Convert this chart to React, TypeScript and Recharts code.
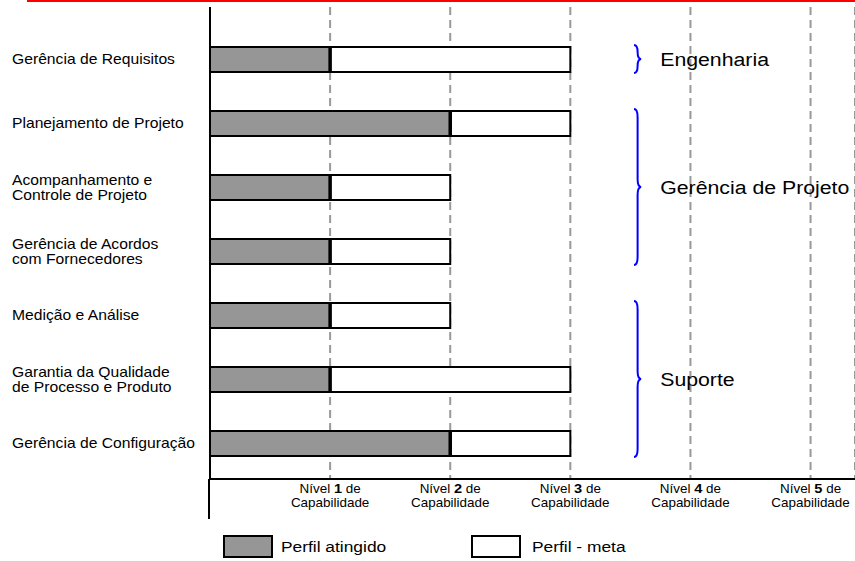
import React from "react";
import {
  BarChart,
  Bar,
  XAxis,
  YAxis,
  CartesianGrid,
  ReferenceArea,
  Legend,
  Rectangle,
} from "recharts";

const processes = [
  "Gerência de Requisitos",
  "Planejamento de Projeto",
  "Acompanhamento e\nControle de Projeto",
  "Gerência de Acordos\ncom Fornecedores",
  "Medição e Análise",
  "Garantia da Qualidade\nde Processo e Produto",
  "Gerência de Configuração",
];
const achieved = [1, 2, 1, 1, 1, 1, 2];
const target = [3, 3, 2, 2, 2, 3, 3];

const levels = [1, 2, 3, 4, 5];
const levelLabel = "Nível";
const levelSuffix = "de";
const levelLine2 = "Capabilidade";

const groups = [
  { name: "Engenharia", from: processes[0], to: processes[0] },
  { name: "Gerência de Projeto", from: processes[1], to: processes[3] },
  { name: "Suporte", from: processes[4], to: processes[6] },
];

const seriesNames = ["Perfil atingido", "Perfil - meta"];

const data = processes.map((name, i) => ({
  name,
  achieved: achieved[i],
  remaining: target[i] - achieved[i],
}));

const FONT = "'Liberation Sans', Arial, sans-serif";
const GRAY = "#969696";
// the source picture is a little wider than it is tall, so text is stretched sideways
const SX = 1.12;

const YTick = ({ y, payload }: any) => {
  const lines = String(payload.value).split("\n");
  const offsets = lines.length === 1 ? [5] : [-2.5, 12.5];
  return (
    <g fontSize={14} fontFamily={FONT} fill="#000">
      {lines.map((l, i) => (
        <text key={i} transform={`translate(12 ${y + offsets[i]}) scale(${SX} 1)`}>
          {l}
        </text>
      ))}
    </g>
  );
};

const XTick = ({ x, y, payload }: any) => {
  if (payload.value === 0) {
    return <line x1={x - 1} y1={y - 8} x2={x - 1} y2={y + 32} stroke="#000" strokeWidth={2} />;
  }
  return (
    <g fontFamily={FONT} fontSize={12} fill="#000">
      <text transform={`translate(${x} ${y + 6}) scale(${SX} 1)`} textAnchor="middle">
        {levelLabel} <tspan fontWeight="bold" fontSize={13}>{payload.value}</tspan> {levelSuffix}
      </text>
      <text transform={`translate(${x} ${y + 20}) scale(${SX} 1)`} textAnchor="middle">
        {levelLine2}
      </text>
    </g>
  );
};

// target segment: the boundary with the achieved part is drawn heavier
const TargetBar = (props: any) => {
  const { x, y, width, height } = props;
  return (
    <g>
      <Rectangle x={x} y={y} width={width} height={height} fill="#fff" stroke="#000" strokeWidth={2} />
      <line x1={x} y1={y} x2={x} y2={y + height} stroke="#000" strokeWidth={3.5} />
    </g>
  );
};

const Brace = (name: string) => (props: any) => {
  const { x, y, width, height } = props;
  const top = y + 18;
  const bot = y + height - 18;
  const mid = (top + bot) / 2;
  const xm = x + width / 2;
  const xe = x + width;
  const r = Math.min(8, (bot - top) / 4);
  const d = `M ${x} ${top} Q ${xm} ${top} ${xm} ${top + r} L ${xm} ${mid - r} Q ${xm} ${mid} ${xe} ${mid} Q ${xm} ${mid} ${xm} ${mid + r} L ${xm} ${bot - r} Q ${xm} ${bot} ${x} ${bot}`;
  return (
    <g>
      <path d={d} fill="none" stroke="#0000ff" strokeWidth={2} />
      <text
        transform={`translate(${xe + 19} ${mid + 7}) scale(${SX} 1)`}
        fontSize={19}
        fontFamily={FONT}
        fill="#000"
      >
        {name}
      </text>
    </g>
  );
};

const legendText: React.CSSProperties = {
  position: "absolute",
  top: 20,
  transform: `scaleX(${SX})`,
  transformOrigin: "left center",
  whiteSpace: "nowrap",
};

const LegendContent = () => (
  <div style={{ position: "relative", height: 43, fontFamily: FONT, fontSize: 15.5, color: "#000" }}>
    <div
      style={{
        position: "absolute",
        left: 223,
        top: 17,
        width: 46,
        height: 19,
        background: GRAY,
        border: "2px solid #000",
      }}
    />
    <div style={{ ...legendText, left: 281 }}>{seriesNames[0]}</div>
    <div
      style={{
        position: "absolute",
        left: 471,
        top: 17,
        width: 46,
        height: 19,
        background: "#fff",
        border: "2px solid #000",
      }}
    />
    <div style={{ ...legendText, left: 532 }}>{seriesNames[1]}</div>
  </div>
);

export default function App() {
  return (
    <div style={{ position: "absolute", left: 0, top: 0, width: 855, height: 561, overflow: "hidden" }}>
      <div style={{ position: "absolute", left: 27, top: 0, width: 828, height: 2, background: "#ff0000" }} />
      <BarChart
        width={855}
        height={561}
        data={data}
        layout="vertical"
        margin={{ top: 7, right: 0, bottom: 0, left: 0 }}
      >
        <CartesianGrid horizontal={false} stroke="#999" strokeDasharray="8 5" strokeWidth={2} />
        <XAxis
          type="number"
          domain={[0, 5.37]}
          ticks={[0, ...levels]}
          interval={0}
          tickLine={false}
          axisLine={{ stroke: "#000", strokeWidth: 2 }}
          tick={<XTick />}
          height={39}
        />
        <XAxis
          xAxisId="frame"
          type="number"
          domain={[0, 5.37]}
          ticks={[]}
          tick={false}
          tickLine={false}
          axisLine={{ stroke: "#000", strokeWidth: 2 }}
          height={0}
        />
        <YAxis
          type="category"
          dataKey="name"
          width={210}
          interval={0}
          tickLine={false}
          axisLine={{ stroke: "#000", strokeWidth: 2 }}
          tick={<YTick />}
          padding={{ top: 20, bottom: 4 }}
        />
        <Bar
          dataKey="achieved"
          name={seriesNames[0]}
          stackId="p"
          fill={GRAY}
          stroke="#000"
          strokeWidth={2}
          barSize={25}
          isAnimationActive={false}
        />
        <Bar
          dataKey="remaining"
          name={seriesNames[1]}
          stackId="p"
          fill="#fff"
          stroke="#000"
          strokeWidth={2}
          barSize={25}
          shape={<TargetBar />}
          isAnimationActive={false}
        />
        {groups.map((g) => (
          <ReferenceArea
            key={g.name}
            x1={3.53}
            x2={3.59}
            y1={g.from}
            y2={g.to}
            ifOverflow="visible"
            shape={Brace(g.name)}
          />
        ))}
        <Legend verticalAlign="bottom" height={43} content={<LegendContent />} />
      </BarChart>
    </div>
  );
}
